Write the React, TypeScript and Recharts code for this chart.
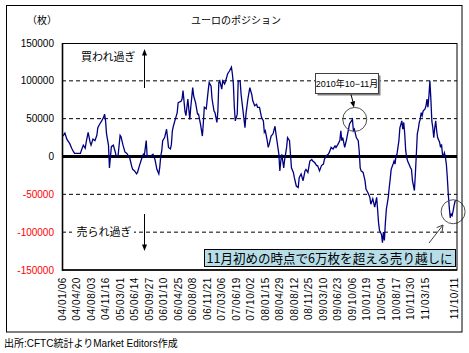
import React from 'react';
import { LineChart, Line, XAxis, YAxis, ReferenceLine, ReferenceDot } from 'recharts';

// week index counted from 2004/01/06
const WEEK_INDEX = [
  0, 2, 3, 5, 7, 8, 10, 12, 13, 16, 19, 20, 22, 24, 25, 27, 29, 30, 32, 34, 36, 37, 39, 41, 43, 44, 45, 46, 48, 49,
  51, 53, 55, 56, 58, 60, 61, 63, 65, 67, 68, 70, 72, 73, 75, 77, 78, 80, 82, 84, 85, 87, 88, 90, 92, 94, 96, 97, 98, 100,
  101, 102, 103, 104, 106, 108, 109, 110, 112, 113, 114, 115, 117, 119, 120, 123, 124, 125, 127, 128, 130, 132, 133, 135, 136, 138, 140, 141, 143, 145,
  146, 147, 149, 151, 152, 154, 155, 157, 158, 160, 161, 162, 163, 165, 166, 168, 170, 171, 173, 175, 176, 177, 178, 179, 181, 182, 184, 185, 187, 189,
  190, 192, 194, 196, 197, 199, 201, 202, 204, 206, 208, 209, 210, 212, 213, 214, 216, 218, 220, 221, 222, 224, 225, 226, 227, 229, 230, 232, 233, 235,
  236, 237, 239, 240, 242, 244, 245, 247, 249, 251, 252, 254, 256, 258, 259, 261, 263, 264, 266, 268, 270, 271, 273, 275, 276, 278, 280, 282, 283, 285,
  287, 288, 289, 290, 292, 294, 295, 297, 299, 300, 301, 302, 304, 306, 307, 308, 309, 311, 313, 314, 316, 318, 319, 321, 323, 325, 326, 327, 328, 330,
  331, 332, 333, 334, 335, 337, 338, 339, 340, 342, 343, 344, 345, 346, 347, 348, 349, 351, 352, 353, 354, 355, 356, 357, 359, 360, 361, 362, 364, 365,
  366, 367, 368, 369, 370, 371, 372, 373, 375, 376, 377, 378, 379, 380, 381, 382, 383, 384, 385, 386, 387, 388, 390, 391, 392, 393, 394, 395, 396, 397,
  398, 399, 400, 401, 402, 403, 404, 405, 406, 407,
];

// net position, thousands of contracts
const NET_POSITION_K = [
  26, 29, 31, 23, 19, 17, 11, 6, 4, 4, 4, 8, 15, 11, 19, 32, 19, 15, 23, 21, 28, 38, 43, 47, 52, 56, 47, 30, 15, -15,
  13, 15, 6, 0, 2, 28, 26, 15, 6, 4, 2, -2, -13, -17, -19, -23, -21, -12, -4, 3, 1, 21, -1, -1, 1, 3, -4, -10, -17, -23,
  -14, 1, 7, 21, 25, 36, 25, 12, 10, 16, 34, 40, 49, 58, 71, 73, 76, 87, 60, 54, 76, 49, 65, 91, 80, 71, 56, 56, 43, 27,
  45, 65, 63, 87, 98, 93, 76, 60, 58, 45, 60, 98, 100, 89, 100, 96, 104, 109, 113, 118, 109, 96, 65, 47, 56, 100, 100, 82, 60, 38,
  56, 76, 91, 82, 74, 67, 69, 65, 65, 52, 47, 32, 34, 21, 12, 16, 27, 30, 40, 30, 21, 3, -19, -6, 3, -15, -4, 12, 25, 21,
  3, -15, -21, -28, -39, -41, -28, -23, -32, -19, -17, -21, -6, -4, -6, -8, -12, -12, -19, -12, -10, -4, 1, 3, 5, 12, 10, 14, 12, 16,
  21, 34, 21, 25, 12, 23, 30, 43, 47, 49, 34, 36, 25, 21, 7, -15, -19, -21, -32, -43, -48, -54, -63, -56, -67, -54, -70, -88, -98, -103,
  -114, -100, -111, -88, -70, -54, -41, -30, -17, -10, -6, -10, 1, 3, 12, 21, 38, 47, 36, 45, 30, 8, -1, -6, -12, -15, -17, -32, -45, -23,
  3, 30, 36, 45, 49, 58, 54, 60, 63, 67, 76, 65, 80, 100, 76, 47, 38, 25, 38, 47, 34, 25, 19, 12, 16, 3, 1, 5, -1, -10,
  -28, -50, -67, -81, -76, -78, -72, -65, -59, -58,
];

const X_TICK_WEEKS = [0, 15, 30, 45, 60, 75, 90, 105, 120, 135, 150, 165, 180, 195, 210, 225, 240, 255, 270, 285, 300, 315, 330, 345, 360, 375, 405];
const X_TICK_LABELS = [
  '04/01/06', '04/04/20', '04/08/03', '04/11/16', '05/03/01', '05/06/14', '05/09/27', '06/01/10', '06/04/25',
  '06/08/08', '06/11/21', '07/03/06', '07/06/19', '07/10/02', '08/01/15', '08/04/29', '08/08/12', '08/11/25',
  '09/03/10', '09/06/23', '09/10/06', '10/01/19', '10/05/04', '10/08/17', '10/11/30', '11/03/15', '11/10/11',
];
const Y_TICKS = [150000, 100000, 50000, 0, -50000, -100000, -150000];
const GRID_VALUES = [100000, 50000, -50000, -100000];

const data = WEEK_INDEX.map((w, i) => ({ w, v: NET_POSITION_K[i] * 1000 }));

const JP = "'Noto Sans CJK JP', 'Liberation Sans', sans-serif";
const LAT = "'Liberation Sans', 'Noto Sans CJK JP', sans-serif";

const XTick = (props: any) => {
  const { x, y, payload } = props;
  const idx = X_TICK_WEEKS.indexOf(payload.value);
  const label = idx >= 0 ? X_TICK_LABELS[idx] : '';
  return (
    <text
      transform={`translate(${x + 3.5},${y - 1}) rotate(-90)`}
      textAnchor="end"
      fontSize={10}
      fontFamily={LAT}
      letterSpacing={0.6}
      fill="#000"
    >
      {label}
    </text>
  );
};

const YTick = (props: any) => {
  const { x, y, payload } = props;
  return (
    <text x={x} y={y} dy={3.5} textAnchor="end" fontSize={10} fontFamily={LAT} fill={payload.value < 0 ? '#ff0000' : '#000'}>
      {payload.value}
    </text>
  );
};

export default function App() {
  return (
    <div style={{ position: 'absolute', left: 0, top: 0, width: 469, height: 353, background: '#fff' }}>
      <LineChart width={469} height={353} data={data} margin={{ top: 43, right: 12, left: 0, bottom: 0 }}>
        <XAxis
          dataKey="w"
          type="number"
          domain={[0, 408]}
          ticks={X_TICK_WEEKS}
          interval={0}
          axisLine={false}
          tickLine={false}
          height={83}
          tick={<XTick />}
          allowDataOverflow
        />
        <YAxis
          type="number"
          domain={[-150000, 150000]}
          ticks={Y_TICKS}
          interval={0}
          axisLine={false}
          tickLine={false}
          width={62}
          tick={<YTick />}
          allowDataOverflow
        />
        {GRID_VALUES.map((g) => (
          <ReferenceLine key={g} y={g} stroke="#000" strokeDasharray="4 3" strokeWidth={1} />
        ))}
        <ReferenceLine y={0} stroke="#000" strokeWidth={3} />
        <Line type="linear" dataKey="v" stroke="#000080" strokeWidth={1.3} dot={false} isAnimationActive={false} />
        <ReferenceDot x={302.4} y={49000} r={12} fill="none" stroke="#505050" strokeWidth={1} />
        <ReferenceDot x={404} y={-73000} r={12} fill="none" stroke="#505050" strokeWidth={1} ifOverflow="visible" />
      </LineChart>
      <svg width={469} height={353} style={{ position: 'absolute', left: 0, top: 0, pointerEvents: 'none' }}>
        <rect x={6.5} y={5.5} width={455.5} height={326.5} fill="none" stroke="#000" strokeWidth={1} />
        <rect x={62.5} y={43.5} width={394.5} height={226.5} fill="none" stroke="#000" strokeWidth={1} />
        <line x1={62.5} y1={43} x2={62.5} y2={271} stroke="#000" strokeWidth={1.6} />
        <line x1={62} y1={270} x2={457} y2={270} stroke="#000" strokeWidth={1.6} />

        <text x={236} y={24} textAnchor="middle" fontSize={10} fontFamily={JP} fill="#000">ユーロのポジション</text>
        <text x={42} y={24} textAnchor="middle" fontSize={10} fontFamily={JP} fill="#000">（枚）</text>

        <text x={81} y={61} fontSize={11} fontFamily={JP} fill="#000">買われ過ぎ</text>
        <line x1={144.5} y1={88} x2={144.5} y2={54} stroke="#000" strokeWidth={1} />
        <polygon points="144.5,49 142,55.5 147,55.5" fill="#000" />

        <rect x={72} y={225} width={62} height={13} fill="#fff" />
        <text x={76.5} y={235.5} fontSize={11} fontFamily={JP} fill="#000">売られ過ぎ</text>
        <line x1={144.5} y1={214} x2={144.5} y2={245} stroke="#000" strokeWidth={1} />
        <polygon points="144.5,251 142,244.5 147,244.5" fill="#000" />

        <rect x={317.5} y={75.5} width={63} height={20} fill="#808080" />
        <rect x={315.5} y={73.5} width={63} height={20} fill="#fff" stroke="#404040" strokeWidth={1} />
        <text x={347} y={87} textAnchor="middle" fontSize={9} fontFamily={LAT} fill="#000">2010年10−11月</text>
        <line x1={351} y1={94.5} x2={353} y2={102} stroke="#000" strokeWidth={1} />
        <polygon points="354,107.5 355.1,101.1 350.2,102.2" fill="#000" />

        <line x1={429} y1={243} x2={443} y2={225} stroke="#404040" strokeWidth={1} />
        <polyline points="436.6,227.6 443,225 442.1,231.9" fill="none" stroke="#404040" strokeWidth={1} />

        <rect x={204.5} y={249.5} width={251} height={17} fill="#b7dde8" stroke="#000" strokeWidth={1} />
        <text x={206.5} y={262.5} fontSize={13} fontFamily={JP} fill="#000" textLength={246} lengthAdjust="spacingAndGlyphs">11月初めの時点で6万枚を超える売り越しに</text>

        <text x={4} y={347} fontSize={10} fontFamily={LAT} fill="#000">出所:CFTC統計よりMarket Editors作成</text>
      </svg>
    </div>
  );
}
